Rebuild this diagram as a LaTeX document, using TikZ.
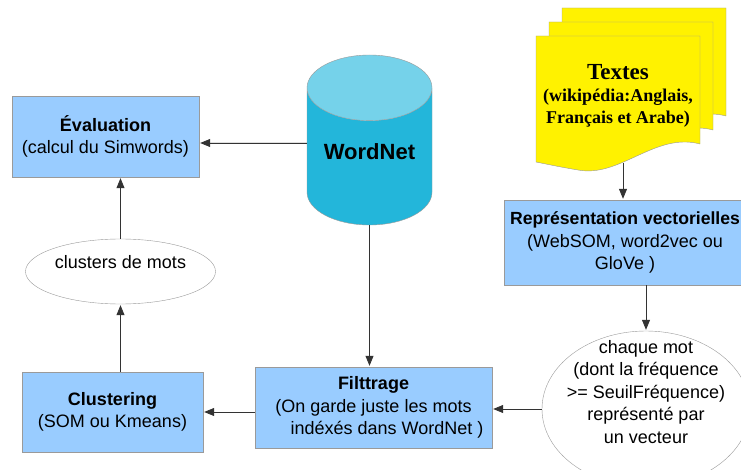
\documentclass[tikz,border=0pt]{standalone}
\usepackage{fontspec}
\setmainfont{Liberation Sans}
\newfontfamily\textesfont{Liberation Serif}
\usetikzlibrary{shapes.geometric,arrows.meta}

\definecolor{boxblue}{HTML}{99CCFF}
\definecolor{dbbody}{HTML}{23B6DA}
\definecolor{dbtop}{HTML}{75D2EA}
\definecolor{bordergray}{HTML}{9A9A9A}

\begin{document}
\begin{tikzpicture}[x=1pt, y=-1pt, shorten >=1pt,
    font=\fontsize{18}{22.5}\selectfont,
    box/.style={rectangle, draw=bordergray, fill=boxblue, align=center, inner sep=0pt},
    bulle/.style={ellipse, draw=bordergray, fill=white, inner sep=0pt},
    page/.style={draw=bordergray, fill=yellow},
    post/.style={-{Triangle[length=10pt, width=8pt]}, draw=black!80, fill=black, line width=0.8pt}]

    \useasboundingbox (0,0) rectangle (741,470);

    % draw the pages of the texts
    \foreach \dx/\dy in {26/-28, 13/-14, 0/0}
        \draw [page, shift={(\dx,\dy)}]
            (536,36) -- (700,36) -- (700,144)
            .. controls (655,132) and (620,178) .. (578,170)
            .. controls (560,167) and (546,164) .. (536,162) -- cycle;
    \node [align=center, font=\textesfont\bfseries\fontsize{18}{22}\selectfont]
        (textes) at (618,96) {{\fontsize{23}{28}\selectfont Textes}\\(wikipédia:Anglais,\\Français et Arabe)};
    \coordinate (textes-bas) at (623,163);

    % draw nodes
    \node [cylinder, shape border rotate=90, aspect=0.67, draw=bordergray,
        minimum width=125pt, minimum height=170pt, anchor=shape center,
        cylinder uses custom fill, cylinder body fill=dbbody, cylinder end fill=dbtop,
        font=\fontsize{22}{26}\selectfont\bfseries]
        (wordnet) at (369.5,140) {\raisebox{10pt}[\height][\depth]{WordNet}};
    \path (wordnet.shape center -| wordnet.west) ++(0,3) coordinate (wn-ouest);
    \node [box, minimum width=187pt, minimum height=81pt]
        (eval) at (105.5,136.5) {\textbf{Évaluation}\\(calcul du Simwords)};
    \node [box, minimum width=242pt, minimum height=85pt]
        (repr) at (625,242.5) {{\fontsize{17.6}{22.5}\selectfont\textbf{Représentation vectorielles}}\\(WebSOM, word2vec ou\\GloVe )};
    \node [bulle, minimum width=190pt, minimum height=65pt] (mots) at (120.5,271.5) {};
    \node (mots-txt) at (120.5,262) {clusters de mots};
    \node [bulle, minimum width=208pt, minimum height=156pt] (mot) at (646,409) {};
    \node [align=center] (mot-txt) at (646,392)
        {chaque mot\\(dont la fréquence\\>= SeuilFréquence)\\représenté par\\un vecteur};
    \node [box, minimum width=237pt, minimum height=81pt]
        (filtre) at (373.5,407.5) {\textbf{Filttrage}\\(On garde juste les mots\\\hspace*{27pt}indéxés dans WordNet )};
    \node [box, minimum width=181pt, minimum height=80pt]
        (clust) at (112.5,412) {\textbf{Clustering}\\(SOM ou Kmeans)};

    % draw edges
    \draw [post] (wn-ouest) -- (wn-ouest -| eval.east);
    \draw [post] (wordnet.south) -- (wordnet.south |- filtre.north);
    \draw [post] (textes-bas) -- (textes-bas |- repr.north);
    \draw [post] (mot.north |- repr.south) -- (mot.north);
    \draw [post] (mot.west) -- (mot.west -| filtre.east);
    \draw [post] (clust.east -| filtre.west) -- (clust.east);
    \draw [post] (mots.south |- clust.north) -- (mots.south);
    \draw [post] (mots.north) -- (mots.north |- eval.south);

\end{tikzpicture}
\end{document}
